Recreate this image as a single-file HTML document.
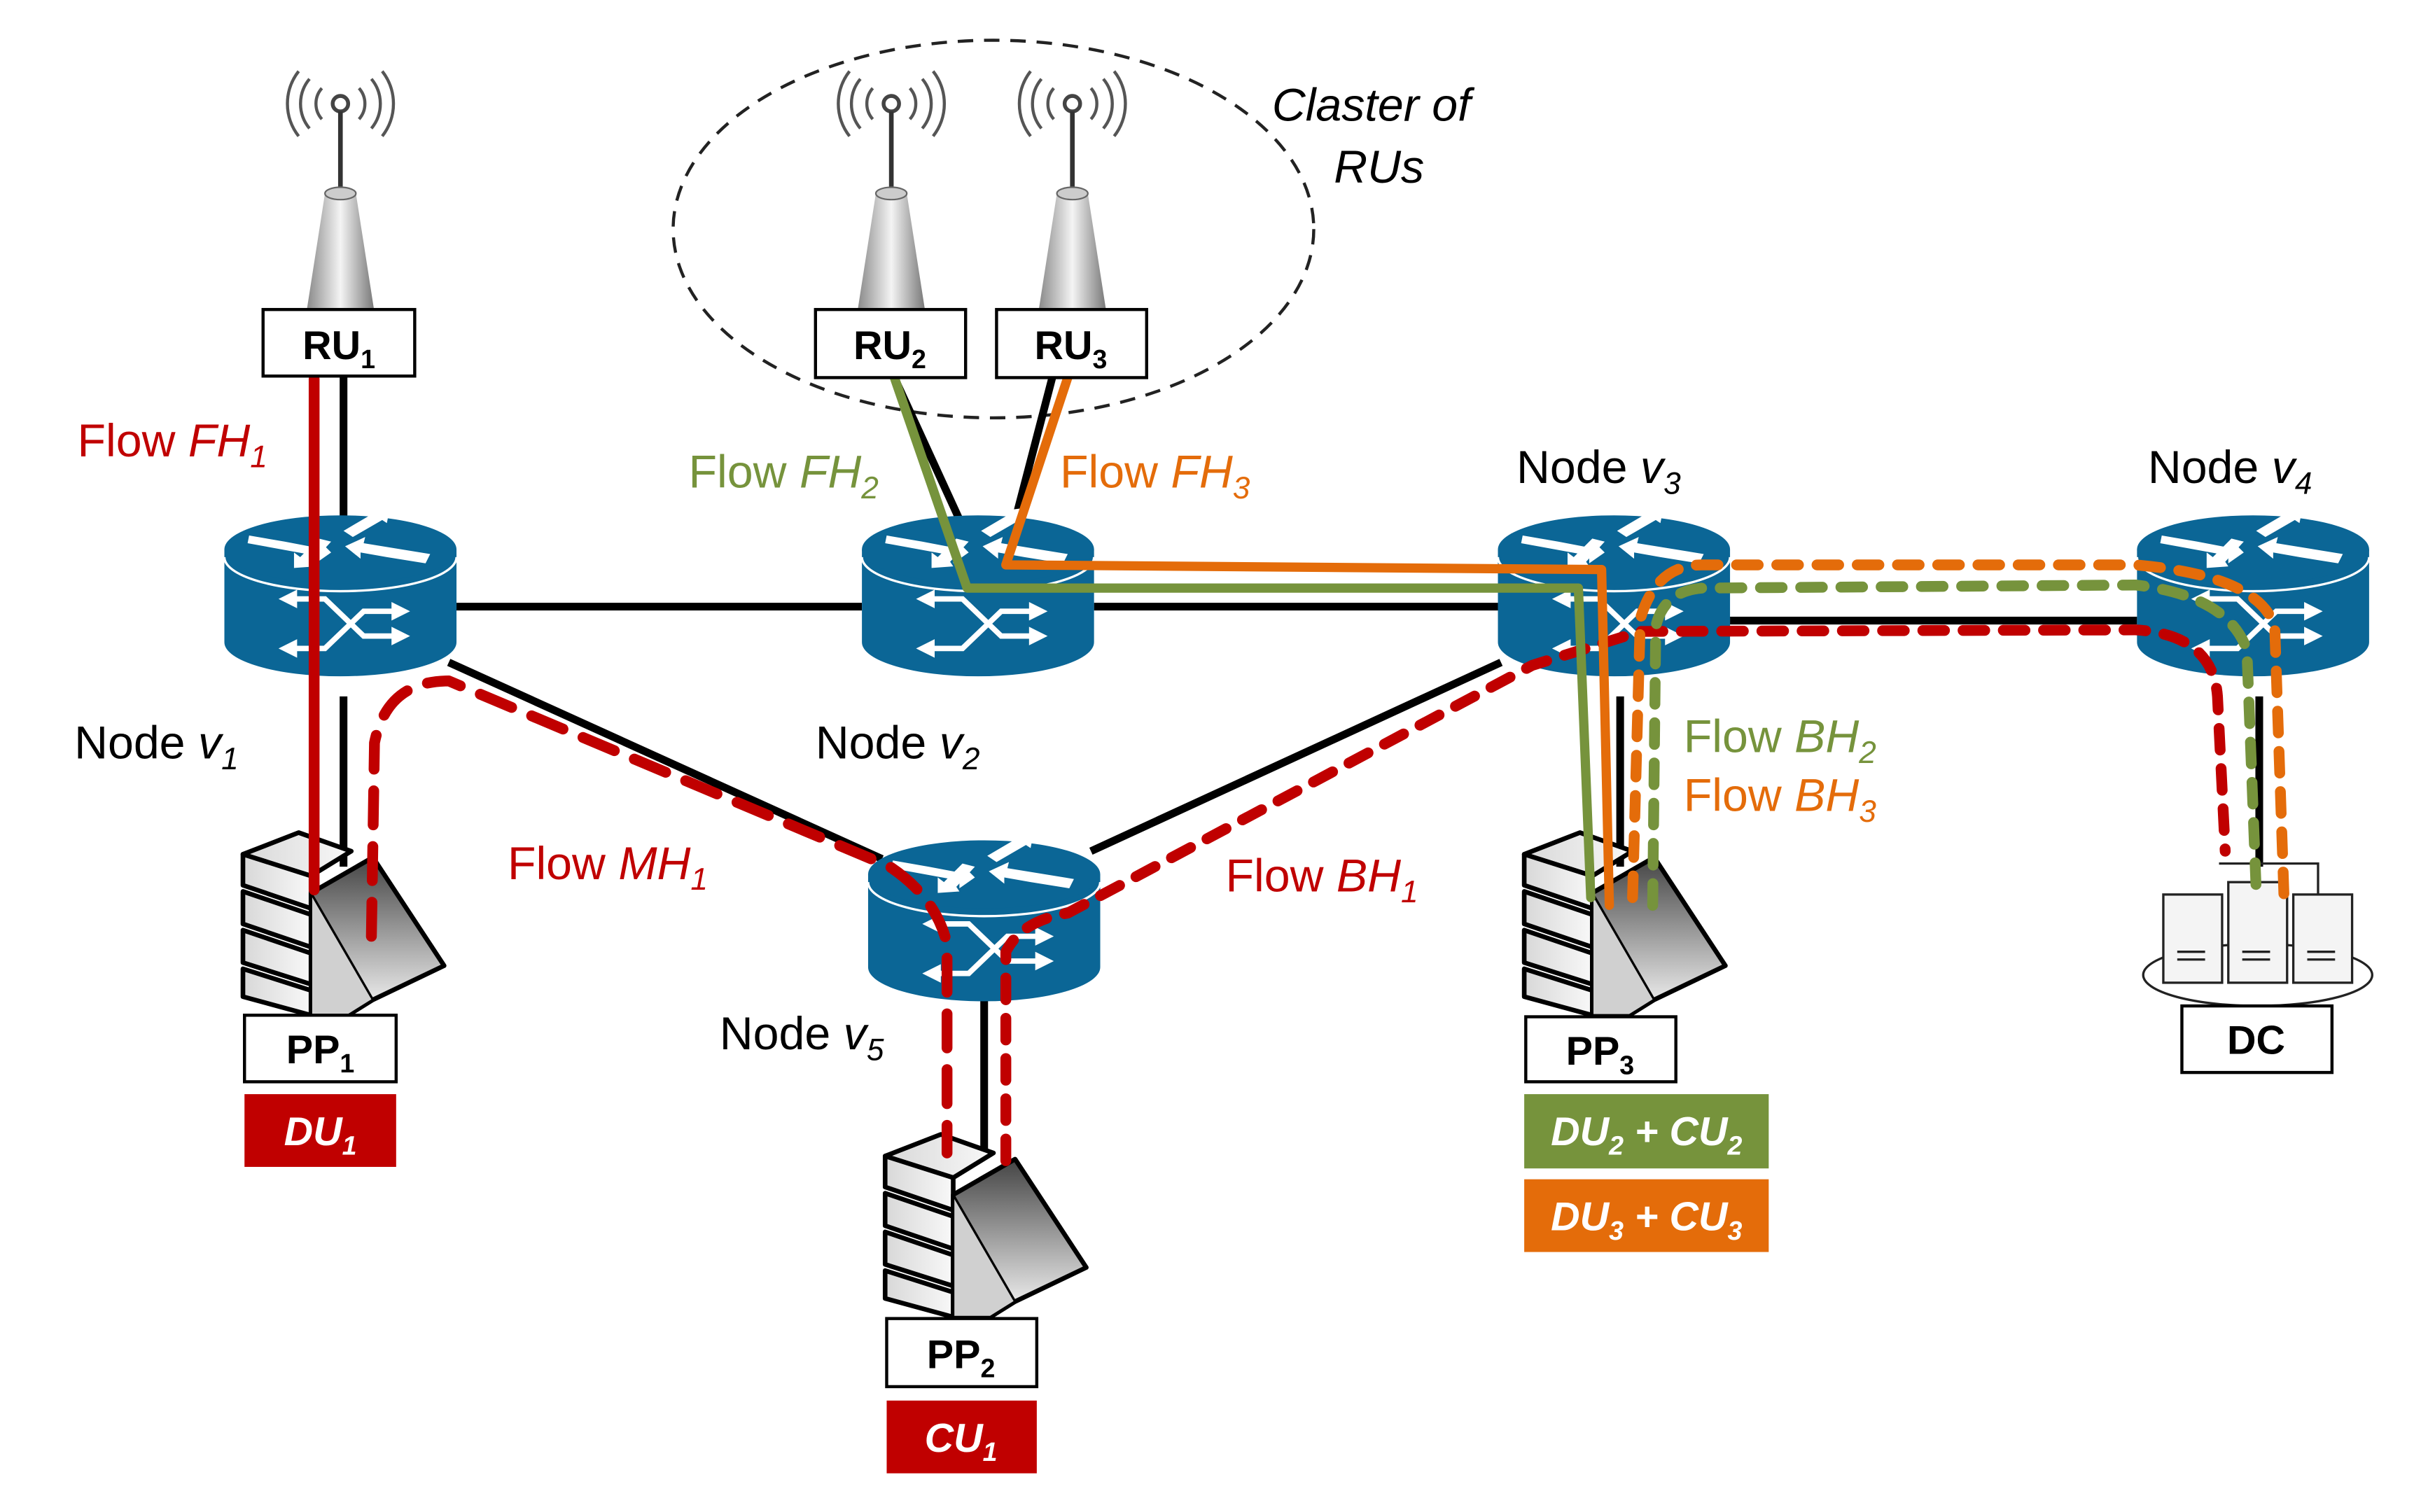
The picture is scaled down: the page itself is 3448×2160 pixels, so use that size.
<!DOCTYPE html>
<html><head><meta charset="utf-8"><style>
html,body{margin:0;padding:0;background:#fff;}
svg{display:block;}
text{font-family:"Liberation Sans",sans-serif;}
</style></head><body>
<svg width="3448" height="2160" viewBox="0 0 1560 977" preserveAspectRatio="none" xmlns="http://www.w3.org/2000/svg">
<defs>
<linearGradient id="tw" x1="0" x2="1"><stop offset="0" stop-color="#888"/><stop offset="0.5" stop-color="#f4f4f4"/><stop offset="1" stop-color="#777"/></linearGradient>
<linearGradient id="sv" x1="0" x2="0" y1="0" y2="1"><stop offset="0" stop-color="#444"/><stop offset="1" stop-color="#fafafa"/></linearGradient>
<linearGradient id="sl" x1="0" x2="1"><stop offset="0" stop-color="#d8d8d8"/><stop offset="1" stop-color="#f8f8f8"/></linearGradient>
<g id="router">
<path d="M-75 0 V60 A75 22 0 0 0 75 60 V0 Z" fill="#0b6696"/>
<ellipse cx="0" cy="0" rx="75" ry="22" fill="#0b6696"/>
<path d="M-75 5 A75 22 0 0 0 75 5" fill="none" stroke="#fff" stroke-width="1.5"/>
<path d="M-59 -9 L-36 -5 L-15 -1 L-13 -5 L-6 2 L-16 9 L-16 4 L-60 -4Z" fill="#fff"/>
<path d="M55 9 L30 5 L13 2 L13 6 L3 -2 L16 -8 L15 -4 L58 3Z" fill="#fff"/>
<path d="M2 -12 L19 -22 L16 -25 L32 -27 L30 -17 L27 -19 L8 -8Z" fill="#fff"/>
<path d="M-6 -5 L-18 8 L-16 11 L-30 12 L-30 2 L-26 5 L-14 -7Z" fill="#fff"/>
<g stroke="#fff" stroke-width="3.5" fill="none"><path d="M-30 32 H-10 L15 56 H35 M-30 64 H-10 L15 40 H35"/></g>
<g fill="#fff"><path d="M-40 32 L-28 26 L-28 38Z M-40 64 L-28 58 L-28 70Z M45 40 L33 34 L33 46Z M45 56 L33 50 L33 62Z"/></g>
</g>
<g id="ant">
<circle cx="0" cy="0" r="5" fill="none" stroke="#444" stroke-width="2.5"/>
<path d="M-12 -10 A15 15 0 0 0 -12 10 M12 -10 A15 15 0 0 1 12 10 M-20 -16 A25 25 0 0 0 -20 16 M20 -16 A25 25 0 0 1 20 16 M-27 -21 A34 34 0 0 0 -27 21 M27 -21 A34 34 0 0 1 27 21" fill="none" stroke="#555" stroke-width="2"/>
<line x1="0" y1="5" x2="0" y2="55" stroke="#333" stroke-width="3"/>
<path d="M-10 58 L10 58 L22 135 L-22 135Z" fill="url(#tw)"/>
<ellipse cx="0" cy="58" rx="10" ry="4" fill="#ccc" stroke="#666"/>
</g>
<g id="server" stroke="#000" stroke-linejoin="round">
<path d="M2 16 L38 2 L72 14 L46 30Z" fill="url(#sl)" stroke-width="3"/>
<g fill="url(#sl)" stroke-width="3">
<path d="M2 16 L46 30 L46 51 L2 36Z"/>
<path d="M2 40 L46 55 L46 76 L2 61Z"/>
<path d="M2 65 L46 80 L46 100 L2 86Z"/>
<path d="M2 90 L46 104 L46 120 L2 108Z"/>
</g>
<path d="M46 41 L86 18 L132 88 L86 110 L70 120 L46 120Z" fill="url(#sv)" stroke-width="3"/>
<path d="M46 41 L46 120 L70 120 L86 110Z" fill="#d0d0d0" stroke-width="1.5"/>
</g>
</defs>

<ellipse cx="642" cy="148" rx="207" ry="122" fill="none" stroke="#222" stroke-width="2" stroke-dasharray="10,7"/>
<text x="822" y="78" font-size="30" font-style="italic">Claster of</text>
<text x="862" y="118" font-size="30" font-style="italic">RUs</text>

<g stroke="#000" stroke-width="5" fill="none">
<line x1="222" y1="243" x2="222" y2="340"/>
<line x1="295" y1="392" x2="557" y2="392"/>
<line x1="707" y1="392" x2="968" y2="392"/>
<line x1="1118" y1="401" x2="1381" y2="401"/>
<line x1="290" y1="428" x2="570" y2="555"/>
<line x1="970" y1="428" x2="705" y2="550"/>
<line x1="222" y1="450" x2="222" y2="560"/>
<line x1="636" y1="640" x2="636" y2="745"/>
<line x1="1047" y1="450" x2="1047" y2="560"/>
<line x1="1460" y1="450" x2="1460" y2="560"/>
<line x1="578" y1="244" x2="622" y2="340"/>
<line x1="680" y1="244" x2="655" y2="340"/>
</g>

<use href="#router" x="220" y="355"/>
<use href="#router" x="632" y="355"/>
<use href="#router" x="1043" y="355"/>
<use href="#router" x="1456" y="355"/>
<use href="#router" x="636" y="565"/>

<use href="#ant" x="220" y="67"/>
<use href="#ant" x="576" y="67"/>
<use href="#ant" x="693" y="67"/>

<use href="#server" x="155" y="536"/>
<use href="#server" x="570" y="731"/>
<use href="#server" x="983" y="536"/>
<g stroke="#222" stroke-width="1.5">
<ellipse cx="1459" cy="630" rx="74" ry="20" fill="none"/>
<rect x="1398" y="578" width="38" height="57" fill="#f4f4f4"/>
<rect x="1440" y="570" width="38" height="65" fill="#f4f4f4"/>
<rect x="1482" y="578" width="38" height="57" fill="#f4f4f4"/>
<path d="M1434 558 H1498 V578" fill="none"/>
<path d="M1407 615 H1425 M1407 620 H1425 M1449 615 H1467 M1449 620 H1467 M1491 615 H1509 M1491 620 H1509" />
</g>

<g fill="none" stroke-linecap="round" stroke-linejoin="round">
<polyline points="203,245 203,575" stroke="#c00000" stroke-width="7"/>
<path d="M240 605 L242 480 Q250 440 290 440 L575 560 Q605 580 612 610 L612 745" stroke="#c00000" stroke-width="7" stroke-dasharray="22,14"/>
<path d="M650 750 L650 615 Q660 595 690 590 L990 430 L1060 408 L1380 407 Q1430 410 1433 450 L1438 550" stroke="#c00000" stroke-width="7" stroke-dasharray="14,12"/>
<polyline points="578,244 625,380 1020,380 1028,580" stroke="#76933c" stroke-width="6"/>
<polyline points="690,244 650,365 1035,368 1040,585" stroke="#e46c0a" stroke-width="6"/>
<path d="M1068 585 L1070 405 Q1075 382 1100 380 L1380 378 Q1440 385 1452 420 L1458 575" stroke="#76933c" stroke-width="7" stroke-dasharray="14,12"/>
<path d="M1055 580 L1060 400 Q1070 365 1100 365 L1380 365 Q1460 372 1470 405 L1476 580" stroke="#e46c0a" stroke-width="7" stroke-dasharray="14,12"/>
</g>

<g stroke="#000" stroke-width="2" fill="#fff">
<rect x="170" y="200" width="98" height="43"/>
<rect x="527" y="200" width="97" height="44"/>
<rect x="644" y="200" width="97" height="44"/>
<rect x="158" y="656" width="98" height="43"/>
<rect x="573" y="852" width="97" height="44"/>
<rect x="986" y="657" width="97" height="42"/>
<rect x="1410" y="650" width="97" height="43"/>
</g>
<rect x="158" y="707" width="98" height="47" fill="#c00000"/>
<rect x="573" y="905" width="97" height="47" fill="#c00000"/>
<rect x="985" y="707" width="158" height="48" fill="#76933c"/>
<rect x="985" y="762" width="158" height="47" fill="#e46c0a"/>

<g font-size="26" font-weight="bold" text-anchor="middle">
<text x="219" y="232">RU<tspan font-size="17" dy="6">1</tspan></text>
<text x="575" y="232">RU<tspan font-size="17" dy="6">2</tspan></text>
<text x="692" y="232">RU<tspan font-size="17" dy="6">3</tspan></text>
<text x="207" y="687">PP<tspan font-size="17" dy="6">1</tspan></text>
<text x="621" y="884">PP<tspan font-size="17" dy="6">2</tspan></text>
<text x="1034" y="688">PP<tspan font-size="17" dy="6">3</tspan></text>
<text x="1458" y="681">DC</text>
<g fill="#fff" font-style="italic">
<text x="207" y="740">DU<tspan font-size="17" dy="6">1</tspan></text>
<text x="621" y="938">CU<tspan font-size="17" dy="6">1</tspan></text>
<text x="1064" y="740">DU<tspan font-size="17" dy="6">2</tspan><tspan dy="-6"> + CU</tspan><tspan font-size="17" dy="6">2</tspan></text>
<text x="1064" y="795">DU<tspan font-size="17" dy="6">3</tspan><tspan dy="-6"> + CU</tspan><tspan font-size="17" dy="6">3</tspan></text>
</g>
</g>

<g font-size="30">
<text x="50" y="295" fill="#c00000">Flow <tspan font-style="italic">FH</tspan><tspan font-style="italic" font-size="20" dy="7">1</tspan></text>
<text x="445" y="315" fill="#76933c">Flow <tspan font-style="italic">FH</tspan><tspan font-style="italic" font-size="20" dy="7">2</tspan></text>
<text x="685" y="315" fill="#e46c0a">Flow <tspan font-style="italic">FH</tspan><tspan font-style="italic" font-size="20" dy="7">3</tspan></text>
<text x="328" y="568" fill="#c00000">Flow <tspan font-style="italic">MH</tspan><tspan font-style="italic" font-size="20" dy="7">1</tspan></text>
<text x="792" y="576" fill="#c00000">Flow <tspan font-style="italic">BH</tspan><tspan font-style="italic" font-size="20" dy="7">1</tspan></text>
<text x="1088" y="486" fill="#76933c">Flow <tspan font-style="italic">BH</tspan><tspan font-style="italic" font-size="20" dy="7">2</tspan></text>
<text x="1088" y="524" fill="#e46c0a">Flow <tspan font-style="italic">BH</tspan><tspan font-style="italic" font-size="20" dy="7">3</tspan></text>
<text x="48" y="490">Node <tspan font-style="italic">v</tspan><tspan font-style="italic" font-size="20" dy="7">1</tspan></text>
<text x="527" y="490">Node <tspan font-style="italic">v</tspan><tspan font-style="italic" font-size="20" dy="7">2</tspan></text>
<text x="980" y="312">Node <tspan font-style="italic">v</tspan><tspan font-style="italic" font-size="20" dy="7">3</tspan></text>
<text x="1388" y="312">Node <tspan font-style="italic">v</tspan><tspan font-style="italic" font-size="20" dy="7">4</tspan></text>
<text x="465" y="678">Node <tspan font-style="italic">v</tspan><tspan font-style="italic" font-size="20" dy="7">5</tspan></text>
</g>
</svg>
</body></html>
